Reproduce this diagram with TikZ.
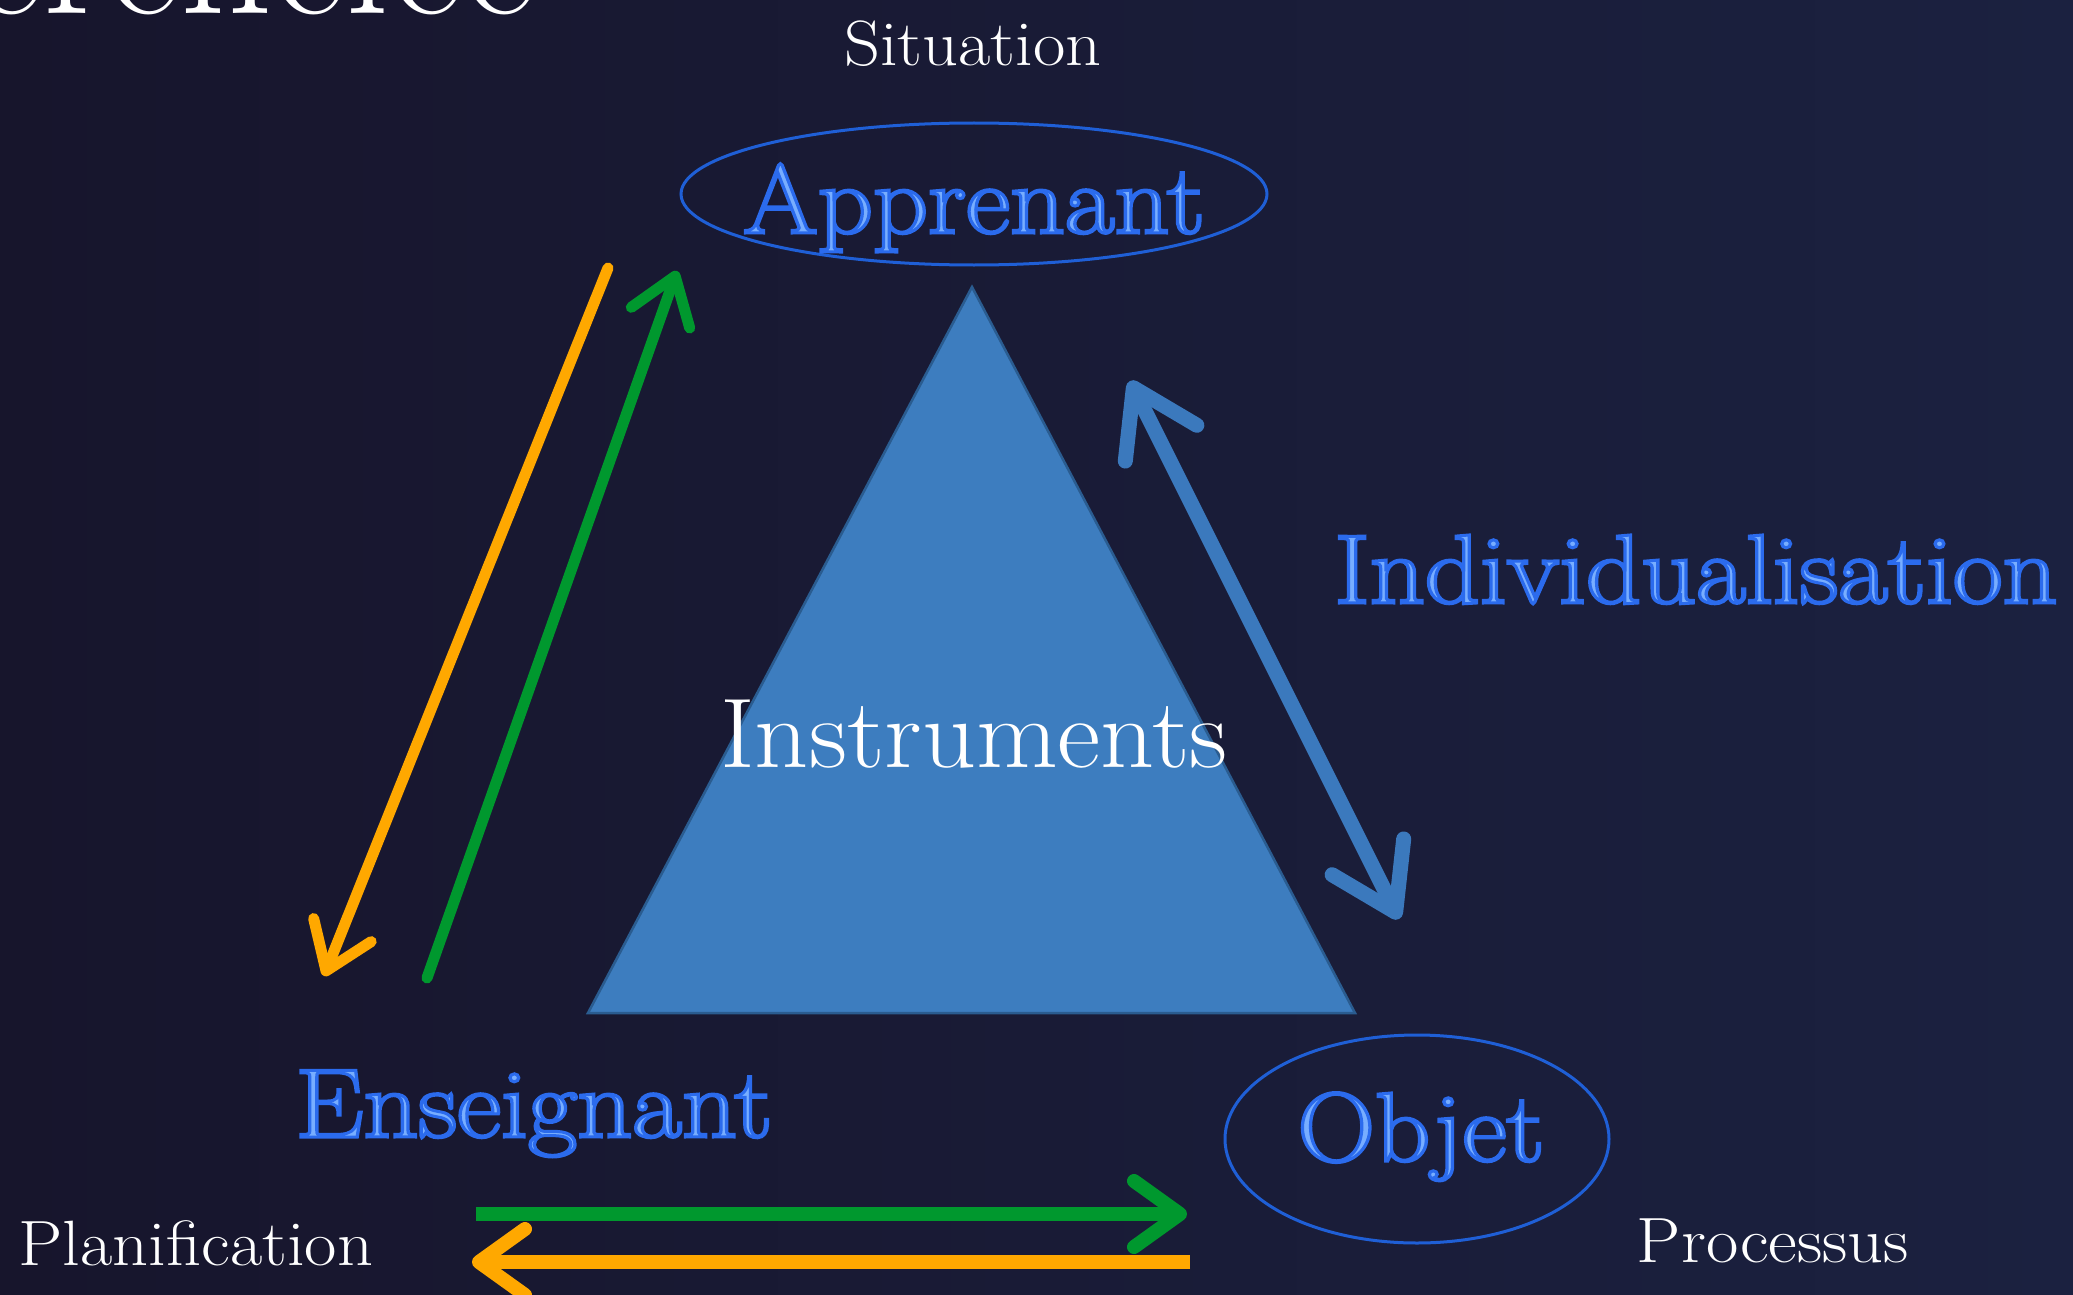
\documentclass[tikz,border=0pt]{standalone}
\usepackage{fontspec}
\usepackage{graphicx}
\setmainfont{Latin Modern Roman}
\usetikzlibrary{arrows.meta,shapes.geometric}
\definecolor{bgL}{HTML}{17152C}
\definecolor{bgR}{HTML}{1B2140}
\definecolor{triF}{HTML}{3D7DBF}
\definecolor{triE}{HTML}{2A5C90}
\definecolor{arrB}{HTML}{3B79BD}
\definecolor{ellB}{HTML}{1F5FD6}
\definecolor{txtB}{HTML}{78AEFF}
\definecolor{orng}{HTML}{FFA800}
\definecolor{grn}{HTML}{00982E}
\tikzset{
  whitetxt/.style={text=white, font=\fontsize{64}{70}\selectfont, inner sep=0pt, anchor=base},
  bluetxt/.style={text=txtB, font=\fontsize{98}{110}\selectfont, inner sep=0pt, anchor=base},
  ringshape/.style={draw=ellB, line width=3pt, ellipse, inner sep=0pt},
  diagarrow/.style={line width=11pt, line cap=round, -{Straight Barb[length=44pt,width=62pt,round]}},
  horizarrow/.style={line width=14pt, -{Straight Barb[length=46pt,width=66pt,round]}},
  bluearrow/.style={draw=arrB, line width=15pt, {Straight Barb[length=62pt,width=80pt,round]}-{Straight Barb[length=62pt,width=80pt,round]}},
}
\newcommand\wide[1]{\scalebox{1.1}[1]{#1}}
\newcommand\glowtxt[1]{\scalebox{1.1}[1]{\special{pdf:literal direct 2 Tr 3 w 0.17 0.42 0.93 RG}#1\special{pdf:literal direct 0 Tr}}}
\begin{document}
\begin{tikzpicture}[x=1pt, y=-1pt]
\useasboundingbox (0,0) rectangle (2073,1295);
\shade[left color=bgL, right color=bgR] (0,0) rectangle (2073,1295);

% cut-off title
\node[text=white, font=\fontsize{180}{190}\selectfont, inner sep=0pt, anchor=base east] (title) at (537,14) {Pédagogie différenciée};

% triangle
\coordinate (apex) at (972,287);
\coordinate (bl) at (588,1013);
\coordinate (br) at (1355,1013);
\filldraw[fill=triF, draw=triE, line width=2.5pt] (apex) -- (bl) -- (br) -- cycle;
\node[text=white, font=\fontsize{99}{105}\selectfont, inner sep=0pt, anchor=base] (instr) at (974,767) {\scalebox{1.07}[1]{Instruments}};

% white labels
\node[whitetxt] (sit) at (973,66) {\wide{Situation}};
\node[whitetxt] (plan) at (196,1265) {\wide{Planification}};
\node[whitetxt] (proc) at (1773,1262) {\wide{Processus}};

% ellipses and blue labels
\node[ringshape, minimum width=586pt, minimum height=142pt] (appE) at (974,194) {};
\node[bluetxt] (app) at (974,233) {\glowtxt{Apprenant}};
\node[ringshape, minimum width=384pt, minimum height=208pt] (objE) at (1417,1139) {};
\node[bluetxt] (obj) at (1421,1161) {\glowtxt{Objet}};
\node[bluetxt] (ens) at (534,1137) {\glowtxt{Enseignant}};
\node[bluetxt] (indiv) at (1696,603) {\glowtxt{Individualisation}};

% arrow end points
\coordinate (oA) at (608,268);
\coordinate (oB) at (324,976);
\coordinate (gA) at (427,978);
\coordinate (gB) at (677,271);
\coordinate (bA) at (1130,381);
\coordinate (bB) at (1399,919);
\coordinate (hgA) at (476,1214);
\coordinate (hgB) at (1187,1214);
\coordinate (hoA) at (1190,1262);
\coordinate (hoB) at (472,1262);

\draw[diagarrow, draw=orng] (oA) -- (oB);
\draw[diagarrow, draw=grn] (gA) -- (gB);
\draw[bluearrow] (bA) -- (bB);
\draw[horizarrow, draw=grn] (hgA) -- (hgB);
\draw[horizarrow, draw=orng] (hoA) -- (hoB);
\end{tikzpicture}
\end{document}
